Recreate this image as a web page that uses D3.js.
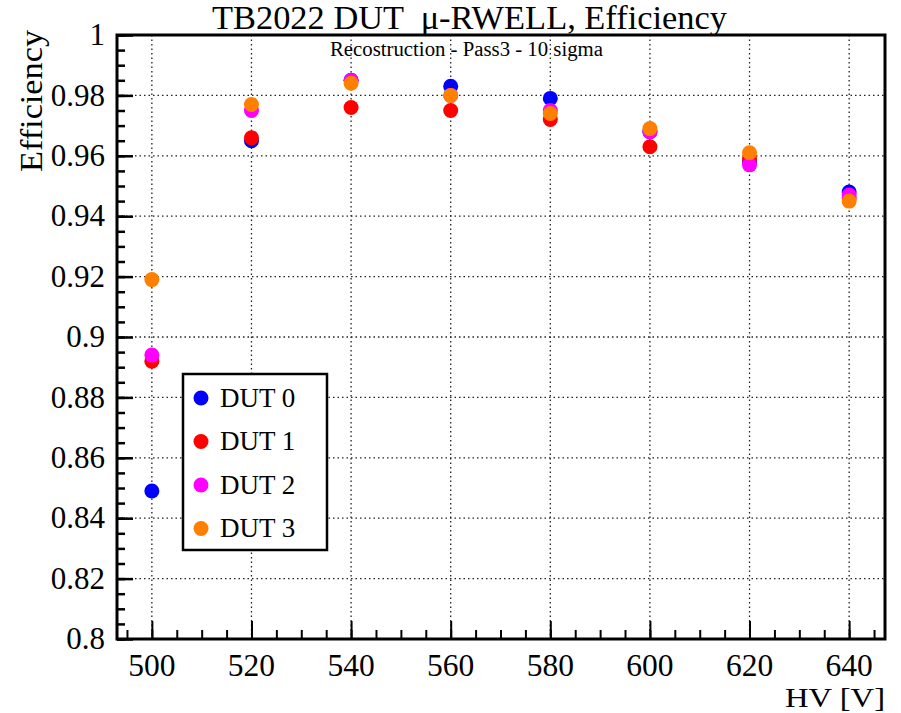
<!DOCTYPE html>
<html>
<head>
<meta charset="utf-8">
<script src="https://cdn.jsdelivr.net/npm/d3@7"></script>
<style>
  body { margin: 0; background: #fff; }
</style>
</head>
<body>
<div id="main"></div>
<script>
const hv = [500, 520, 540, 560, 580, 600, 620, 640]
const dut0 = [0.849, 0.965, 0.985, 0.983, 0.979, 0.968, 0.958, 0.948]
const dut1 = [0.892, 0.966, 0.976, 0.975, 0.972, 0.963, 0.959, 0.946]
const dut2 = [0.894, 0.975, 0.985, 0.980, 0.975, 0.968, 0.957, 0.947]
const dut3 = [0.919, 0.977, 0.984, 0.980, 0.974, 0.969, 0.961, 0.945]
const seriesNames = ['DUT 0', 'DUT 1', 'DUT 2', 'DUT 3']
const seriesColors = ['#0000ff', '#ff0000', '#ff00ff', '#ff7f00']
const xTicks = [500, 520, 540, 560, 580, 600, 620, 640]
const xMinor = d3.range(495, 646, 5)
const yTicks = [0.8, 0.82, 0.84, 0.86, 0.88, 0.9, 0.92, 0.94, 0.96, 0.98, 1]
const yMinor = d3.range(0, 41).map(i => 0.8 + i * 0.005)

const ctx = {
    w: 901,
    h: 713,
    left: 117,
    right: 885,
    top: 35,
    bottom: 639,
    font: '"Liberation Serif", "Times New Roman", serif'
}

function createViz() {
    let svg = d3.select('#main').append('svg')
        .attr('width', ctx.w)
        .attr('height', ctx.h)
        .style('font-family', ctx.font)
    svg.append('rect').attr('width', ctx.w).attr('height', ctx.h).attr('fill', '#fff')

    let x = d3.scaleLinear().domain([493, 647.2]).range([ctx.left, ctx.right])
    let y = d3.scaleLinear().domain([0.8, 1]).range([ctx.bottom, ctx.top])

    // grid
    let grid = svg.append('g')
    grid.selectAll('line.gx')
        .data(xTicks)
        .join('line')
        .attr('x1', d => x(d)).attr('x2', d => x(d))
        .attr('y1', ctx.top).attr('y2', ctx.bottom)
    grid.selectAll('line.gy')
        .data(yTicks.slice(1, -1))
        .join('line')
        .attr('class', 'gy')
        .attr('x1', ctx.left).attr('x2', ctx.right)
        .attr('y1', d => y(d)).attr('y2', d => y(d))
    grid.selectAll('line')
        .attr('stroke', '#222')
        .attr('stroke-width', 1.3)
        .attr('stroke-dasharray', '1.5,3')

    let fmt = d => String(+d.toFixed(2))

    // y axis ticks (inside)
    let yAx = svg.append('g').attr('transform', `translate(${ctx.left},0)`)
    yAx.call(d3.axisLeft(y).tickValues(yMinor).tickSize(-8).tickFormat(''))
    yAx.selectAll('.tick line').attr('stroke-width', 2.5)
    let yAx2 = svg.append('g').attr('transform', `translate(${ctx.left},0)`)
    yAx2.call(d3.axisLeft(y).tickValues(yTicks).tickSize(-16).tickFormat(''))
    yAx2.selectAll('.tick line').attr('stroke-width', 2.5)

    // x axis ticks (inside)
    let xAx = svg.append('g').attr('transform', `translate(0,${ctx.bottom})`)
    xAx.call(d3.axisBottom(x).tickValues(xMinor).tickSize(-9).tickFormat(''))
    xAx.selectAll('.tick line').attr('stroke-width', 2)
    let xAx2 = svg.append('g').attr('transform', `translate(0,${ctx.bottom})`)
    xAx2.call(d3.axisBottom(x).tickValues(xTicks).tickSize(-18).tickFormat(''))
    xAx2.selectAll('.tick line').attr('stroke-width', 2)
    svg.selectAll('.domain').remove()

    // tick labels
    svg.append('g').selectAll('text')
        .data(yTicks)
        .join('text')
        .attr('x', ctx.left - 12)
        .attr('y', d => y(d))
        .attr('dy', '0.33em')
        .attr('text-anchor', 'end')
        .attr('font-size', 31)
        .style('font-family', ctx.font)
        .text(fmt)
    svg.append('g').selectAll('text')
        .data(xTicks)
        .join('text')
        .attr('x', d => x(d))
        .attr('y', ctx.bottom + 37)
        .attr('text-anchor', 'middle')
        .attr('font-size', 31.5)
        .style('font-family', ctx.font)
        .text(d3.format('d'))

    // frame
    svg.append('rect')
        .attr('x', ctx.left).attr('y', ctx.top)
        .attr('width', ctx.right - ctx.left).attr('height', ctx.bottom - ctx.top)
        .attr('fill', 'none').attr('stroke', '#000').attr('stroke-width', 3)

    // points
    let allSeries = [dut0, dut1, dut2, dut3]
    allSeries.forEach((s, i) => {
        svg.append('g').selectAll('circle')
            .data(s.map((v, j) => ({ hv: hv[j], eff: v })))
            .join('circle')
            .attr('cx', d => x(d.hv))
            .attr('cy', d => y(d.eff))
            .attr('r', 7.5)
            .attr('fill', seriesColors[i])
    })

    // legend
    let leg = svg.append('g').attr('transform', 'translate(183,374)')
    leg.append('rect').attr('width', 144).attr('height', 176)
        .attr('fill', '#fff').attr('stroke', '#000').attr('stroke-width', 2.5)
    seriesNames.forEach((n, i) => {
        let row = leg.append('g').attr('transform', `translate(0,${24 + i * 43.5})`)
        row.append('circle').attr('cx', 18).attr('cy', 0).attr('r', 7.5).attr('fill', seriesColors[i])
        row.append('text').attr('x', 37).attr('y', 0).attr('dy', '0.33em')
            .attr('font-size', 27).text(n)
    })

    // titles
    svg.append('text')
        .attr('x', 212).attr('y', 29)
        .attr('font-size', 34)
        .attr('textLength', 515)
        .attr('lengthAdjust', 'spacingAndGlyphs')
        .style('white-space', 'pre')
        .text('TB2022 DUT  \u03bc-RWELL, Efficiency')
    svg.append('text')
        .attr('x', 330).attr('y', 56)
        .attr('font-size', 20.5)
        .attr('textLength', 273)
        .attr('lengthAdjust', 'spacingAndGlyphs')
        .text('Recostruction - Pass3 - 10 sigma')
    svg.append('text')
        .attr('x', 785).attr('y', 707)
        .attr('font-size', 28)
        .attr('textLength', 100)
        .attr('lengthAdjust', 'spacingAndGlyphs')
        .text('HV [V]')
    svg.append('text')
        .attr('transform', 'translate(42,172) rotate(-90)')
        .attr('font-size', 32)
        .attr('textLength', 142)
        .attr('lengthAdjust', 'spacingAndGlyphs')
        .text('Efficiency')
}

createViz()
</script>
</body>
</html>
